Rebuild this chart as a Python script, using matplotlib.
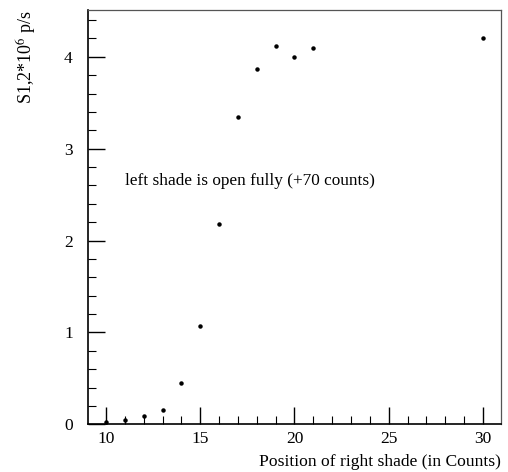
import numpy as np
import matplotlib
matplotlib.use("Agg")
import matplotlib.pyplot as plt
from matplotlib.ticker import MultipleLocator

# shade scan data
positions = [10, 11, 12, 13, 14, 15, 16, 17, 18, 19, 20, 21, 30]
rates = [0.03, 0.05, 0.094, 0.16, 0.45, 1.07, 2.18, 3.34, 3.87, 4.12, 4.00, 4.10, 4.21]

x_ticks = [10, 15, 20, 25, 30]
y_ticks = [0, 1, 2, 3, 4]

plt.rcParams["font.family"] = ["Liberation Serif", "DejaVu Serif"]
plt.rcParams["mathtext.fontset"] = "stix"

fig = plt.figure(figsize=(5.08, 4.72), dpi=100)
ax = fig.add_axes([0.1732, 0.1011, 0.8130, 0.8777])

ax.plot(positions, rates, linestyle="none", marker="o", markersize=2.2, color="black")

ax.set_xlim(9.04, 30.96)
ax.set_ylim(0, 4.51)
ax.set_xticks(x_ticks)
ax.set_yticks(y_ticks)
ax.xaxis.set_minor_locator(MultipleLocator(1))
ax.yaxis.set_minor_locator(MultipleLocator(0.2))

ax.tick_params(which="both", direction="in", top=False, right=False, labelsize=12.5, colors="black")
ax.tick_params(which="major", length=12, width=1)
ax.tick_params(which="minor", length=6, width=0.8)
ax.tick_params(axis="x", pad=5)
ax.tick_params(axis="y", pad=11)

for side in ["left", "bottom"]:
    ax.spines[side].set_linewidth(1.2)
for side in ["top", "right"]:
    ax.spines[side].set_linewidth(0.9)
    ax.spines[side].set_color("#555555")

ax.text(11.0, 2.65, "left shade is open fully (+70 counts)", fontsize=12.4, va="center", ha="left")

ax.set_xlabel("Position of right shade (in Counts)", fontsize=12.6, loc="right", labelpad=5)
ax.set_ylabel(r"S1,2*10$^{6}$ p/s", fontsize=13, loc="top", labelpad=18)

fig.savefig("out.png", dpi=100)
